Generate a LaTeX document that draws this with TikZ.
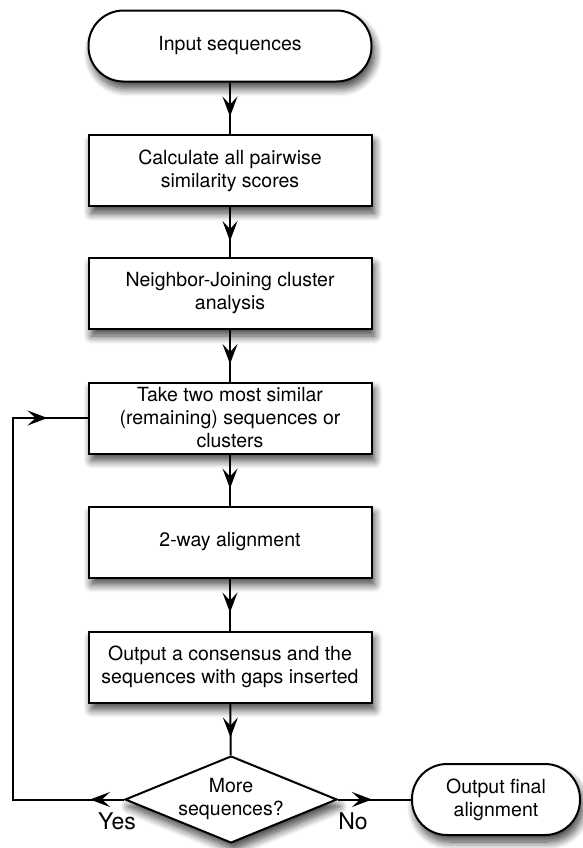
\documentclass[tikz,border=0pt]{standalone}
\usepackage{fontspec}
\setmainfont{TeX Gyre Heros}
\usetikzlibrary{arrows.meta, calc, positioning, shapes.geometric, shadows.blur, decorations.markings}

\begin{document}
\begin{tikzpicture}[x=0.5pt, y=-0.5pt,
  every node/.style={font=\fontsize{9.75}{11.5}\selectfont, align=center},
  softshadow/.style={blur shadow={shadow xshift=1.5pt, shadow yshift=-3.5pt, shadow blur radius=4pt, shadow blur steps=10, shadow opacity=75}},
  procbox/.style={draw, line width=1pt, fill=white, minimum width=141.5pt, minimum height=35.5pt, inner sep=0pt, softshadow},
  termbox/.style={procbox, rounded corners=17.5pt},
  decidebox/.style={diamond, draw, line width=1pt, fill=white, shape aspect=2.4, minimum width=106pt, minimum height=43.5pt, inner sep=0pt, softshadow},
  flow/.style={line width=1pt, postaction={decorate}, decoration={markings, mark=at position 17pt with {\arrow{Stealth[length=10pt, width=7.5pt, inset=4pt]}}}},
  answer/.style={font=\fontsize{11.5}{13}\selectfont}
]
\useasboundingbox (0,0) rectangle (583,848);

% Steps
\node[termbox] (in) at (230,46) {Input sequences};
\node[procbox] (calc) at (230,170.5) {Calculate all pairwise\\similarity scores};
\node[procbox] (nj) at (230,293.5) {Neighbor-Joining cluster\\analysis};
\node[procbox] (take) at (230,418) {Take two most similar\\(remaining) sequences or\\clusters};
\node[procbox] (two) at (230,542) {2-way alignment};
\node[procbox] (out) at (230,667) {Output a consensus and the\\sequences with gaps inserted};

% Decision and end
\node[decidebox] (more) at (231,799.5) {More\\sequences?};
\node[termbox, minimum width=84pt] (fin) at (496,799.5) {Output final\\alignment};

% Main flow
\draw[flow] (in) -- (calc);
\draw[flow] (calc) -- (nj);
\draw[flow] (nj) -- (take);
\draw[flow] (take) -- (two);
\draw[flow] (two) -- (out);
\draw[flow] (out) -- (more);
\draw[flow] (more) -- (fin);

% Loop back
\coordinate (loopB) at (13,799.5);
\coordinate (loopT) at (loopB |- take.west);
\draw[line width=1pt, postaction={decorate}, decoration={markings,
  mark=at position 17pt with {\arrow{Stealth[length=10pt, width=7.5pt, inset=4pt]}},
  mark=at position -20pt with {\arrow{Stealth[length=10pt, width=7.5pt, inset=4pt]}}}]
  (more.west) -- (loopB) -- (loopT) -- (take.west);

% Answers
\node[answer] (yes) at (117,821) {Yes};
\node[answer] (no) at (353,821) {No};
\end{tikzpicture}
\end{document}
